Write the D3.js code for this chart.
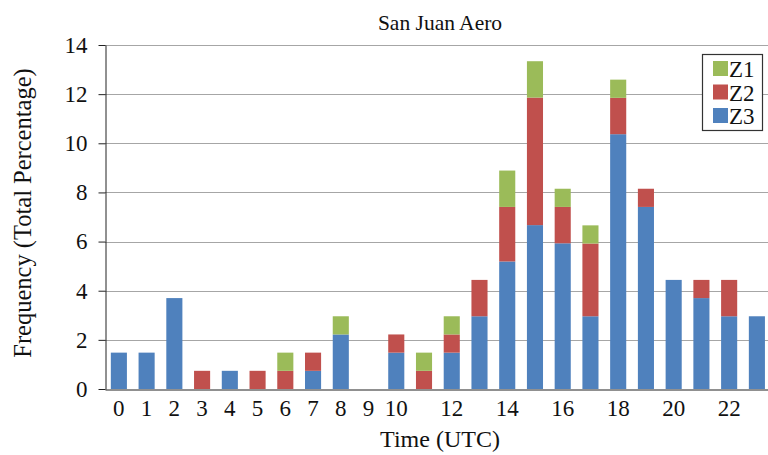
<!DOCTYPE html>
<html><head><meta charset="utf-8">
<script src="https://cdn.jsdelivr.net/npm/d3@7"></script>
<style>body{margin:0;background:#fff}svg{display:block}</style>
</head><body>
<svg id="c" width="768" height="455"></svg>
<script>
const hours = d3.range(0, 24);
const z3 = [1.48,1.48,3.70,0,0.74,0,0,0.74,2.22,0,1.48,0,1.48,2.96,5.19,6.67,5.93,2.96,10.37,7.41,4.44,3.70,2.96,2.96];
const z2 = [0,0,0,0.74,0,0.74,0.74,0.74,0,0,0.74,0.74,0.74,1.48,2.22,5.19,1.48,2.96,1.48,0.74,0,0.74,1.48,0];
const z1 = [0,0,0,0,0,0,0.74,0,0.74,0,0,0.74,0.74,0,1.48,1.48,0.74,0.74,0.74,0,0,0,0,0];
const seriesNames = ["Z3","Z2","Z1"];
const colors = {Z1:"#9BBB59", Z2:"#C0504D", Z3:"#4F81BD"};
const yTicks = [0,2,4,6,8,10,12,14];
const xLabels = [0,1,2,3,4,5,6,7,8,9,10,12,14,16,18,20,22];

const svg = d3.select("#c");
const font = "'Liberation Serif', 'Times New Roman', serif";
const m = {l:105, t:45, b:389};
const x = d3.scaleBand().domain(hours).range([m.l, m.l + 24*27.74]).paddingInner(0.42).paddingOuter(0.21);
const y = d3.scaleLinear().domain([0,14]).range([m.b, m.t]);

const data = hours.map((h,i)=>({hour:h, Z3:z3[i], Z2:z2[i], Z1:z1[i]}));
const stack = d3.stack().keys(seriesNames)(data);

// gridlines
svg.append("g").selectAll("line").data(yTicks.filter(d=>d>0)).join("line")
  .attr("x1", m.l).attr("x2", 768).attr("y1", d=>Math.round(y(d))+0.5).attr("y2", d=>Math.round(y(d))+0.5)
  .attr("stroke", "#a6a6a6").attr("stroke-width", 1.2);

// bars
svg.append("g").selectAll("g").data(stack).join("g")
  .attr("fill", d=>colors[d.key])
  .selectAll("rect").data(d=>d).join("rect")
  .attr("x", d=>x(d.data.hour)).attr("width", x.bandwidth())
  .attr("y", d=>y(d[1])).attr("height", d=>y(d[0])-y(d[1]));

// y axis
const ya = svg.append("g").attr("transform", `translate(${m.l+0.5},0)`)
  .call(d3.axisLeft(y).tickValues(yTicks).tickSize(7).tickPadding(11).tickSizeOuter(0));
ya.select(".domain").attr("stroke", "#222");
ya.selectAll(".tick line").attr("stroke", "#222");
ya.selectAll("text").attr("font-family", font).attr("font-size", 23).attr("fill", "#111");

// x axis
const xa = svg.append("g").attr("transform", `translate(0,${m.b+0.5})`)
  .call(d3.axisBottom(x).tickValues(xLabels).tickSize(0).tickPadding(10));
xa.select(".domain").attr("stroke", "#222").attr("stroke-width", 1.2);
xa.selectAll("text").attr("font-family", font).attr("font-size", 23).attr("fill", "#111");

// title & axis labels
svg.append("text").attr("x", 440).attr("y", 30).attr("text-anchor", "middle")
  .attr("font-family", font).attr("font-size", 21.5).attr("fill", "#111").text("San Juan Aero");
svg.append("text").attr("x", 440).attr("y", 447).attr("text-anchor", "middle")
  .attr("font-family", font).attr("font-size", 24).attr("fill", "#111").text("Time (UTC)");
svg.append("text").attr("transform", "translate(31,213) rotate(-90)").attr("text-anchor", "middle")
  .attr("font-family", font).attr("font-size", 24.5).attr("fill", "#111").text("Frequency (Total Percentage)");

// legend
const lg = svg.append("g");
lg.append("rect").attr("x", 702.5).attr("y", 54.5).attr("width", 60).attr("height", 76)
  .attr("fill", "#fff").attr("stroke", "#333").attr("stroke-width", 1.2);
["Z1","Z2","Z3"].forEach((k,i)=>{
  const cy = 69 + i*23.5;
  lg.append("rect").attr("x", 713).attr("y", cy-8).attr("width", 15).attr("height", 15).attr("fill", colors[k]);
  lg.append("text").attr("x", 729).attr("y", cy+8).attr("font-family", font).attr("font-size", 23)
    .attr("fill", "#111").text(k);
});
</script>
</body></html>
